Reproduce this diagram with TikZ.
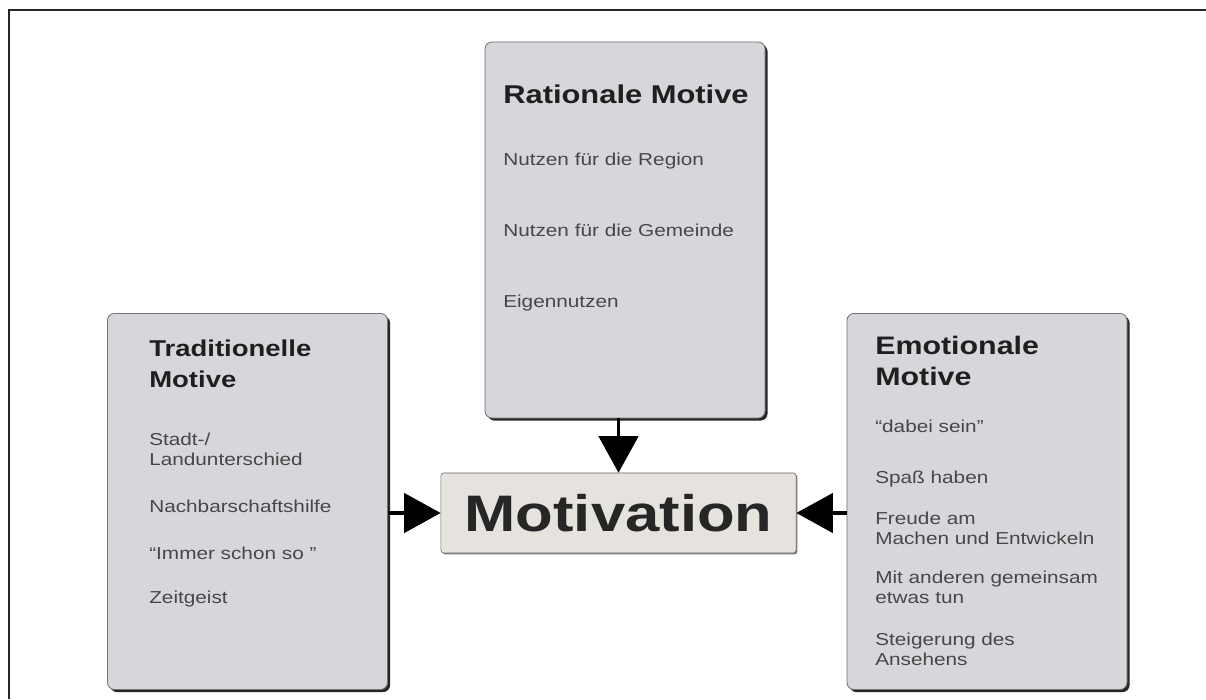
\documentclass[tikz,border=0pt]{standalone}
\usepackage{fontspec}
\setmainfont{Liberation Sans}[FakeStretch=1.2]
\usetikzlibrary{arrows.meta, shadows}
\definecolor{boxgray}{HTML}{D6D7DB}
\definecolor{motivfill}{HTML}{E6E2DD}

\begin{document}
\begin{tikzpicture}[x=0.025cm, y=-0.025cm,
  box/.style={draw=black!55, fill=boxgray, rounded corners=5pt, line width=0.6pt, inner sep=0pt,
    minimum width=7cm, minimum height=9.4cm,
    general shadow={shadow xshift=1.8pt, shadow yshift=-1.8pt, fill=black!85}},
  head/.style={anchor=base west, align=left, inner sep=0pt, font=\fontsize{18}{22}\selectfont\bfseries, text=black!88},
  item/.style={anchor=base west, align=left, inner sep=0pt, font=\fontsize{12.3}{14.2}\selectfont, text=black!72},
  conn/.style={line width=2.4pt, -{Triangle[width=28pt, length=26pt]}}]
  \useasboundingbox (0,0) rectangle (1206,699);
  \draw[line width=1.6pt, black!85] (9,699) -- (9,10) -- (1206,10);

  % the three groups of motives (text nodes sit on their last baseline)
  \node[box] (rat) at (625,230) {};
  \node[box] (trad) at (247.5,501.5) {};
  \node[box] (emo) at (987,501.5) {};

  \node[head, font=\fontsize{18.3}{22}\selectfont\bfseries] (rathead) at (503,103) {Rationale Motive};
  \node[item] (ratitems) at (503,307) {Nutzen für die Region\\[36pt]Nutzen für die Gemeinde\\[36pt]Eigennutzen};

  \node[head, font=\fontsize{16.3}{22}\selectfont\bfseries] (tradhead) at (149,387) {Traditionelle\\Motive};
  \node[item] (traditems) at (149,603) {Stadt-/\\Landunterschied\\[19pt]Nachbarschaftshilfe\\[19pt]“Immer schon so ”\\[17pt]Zeitgeist};

  \node[head] (emohead) at (875,385) {Emotionale\\Motive};
  \node[item] (emoitems) at (875,665) {“dabei sein”\\[22pt]Spaß haben\\[15pt]Freude am\\Machen und Entwickeln\\[13.5pt]Mit anderen gemeinsam\\etwas tun\\[15.5pt]Steigerung des\\Ansehens};

  \node[draw=black!60, fill=motivfill, rounded corners=2pt, inner sep=0pt, minimum width=8.875cm, minimum height=2cm,
    font=\fontsize{36.5}{40}\selectfont\bfseries, text=black!85,
    general shadow={shadow xshift=1pt, shadow yshift=-1pt, fill=black!50}] (motiv) at (618.5,513) {Motivation};

  \draw[conn] (motiv.north |- rat.south) -- (motiv.north);
  \draw[conn] (trad.east |- motiv.west) -- (motiv.west);
  \draw[conn] (emo.west |- motiv.east) -- (motiv.east);
\end{tikzpicture}
\end{document}
